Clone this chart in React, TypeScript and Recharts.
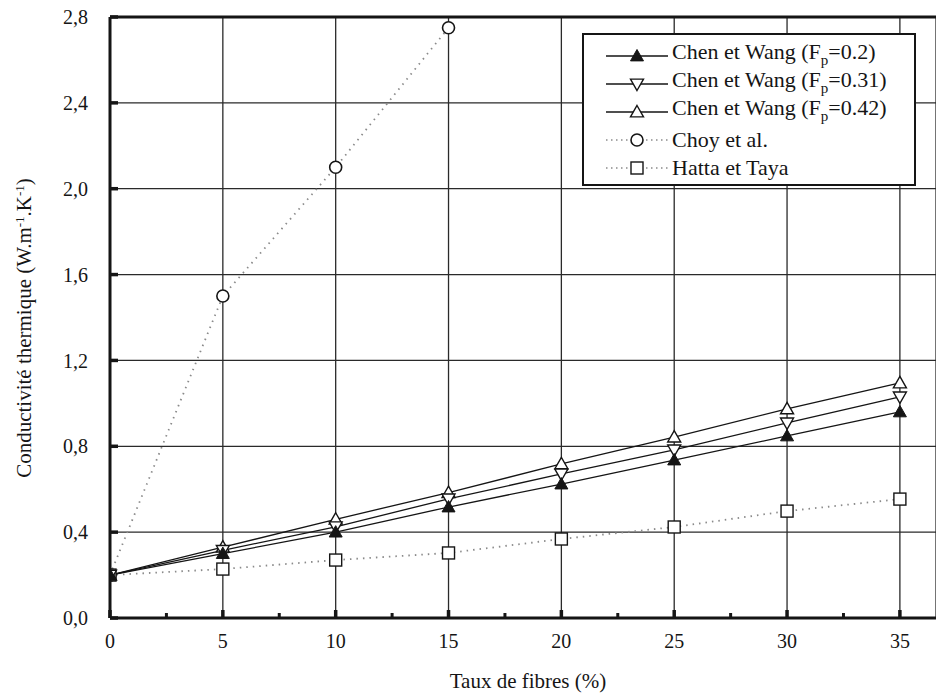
import React from 'react';
import { LineChart, Line, XAxis, YAxis, CartesianGrid, ReferenceLine } from 'recharts';

// Taux de fibres (%)
const fibre = [0, 5, 10, 15, 20, 25, 30, 35];
// Conductivité thermique (W.m-1.K-1)
const chenF020 = [0.2, 0.3, 0.4, 0.517, 0.624, 0.736, 0.848, 0.96];
const chenF031 = [0.2, 0.315, 0.425, 0.555, 0.671, 0.783, 0.909, 1.03];
const chenF042 = [0.2, 0.33, 0.46, 0.584, 0.718, 0.843, 0.974, 1.095];
const choy = [0.2, 1.5, 2.1, 2.75, null, null, null, null];
const hatta = [0.2, 0.228, 0.27, 0.303, 0.368, 0.424, 0.498, 0.554];

const xTicks = [0, 5, 10, 15, 20, 25, 30, 35];
const xMinorTicks = [2.5, 7.5, 12.5, 17.5, 22.5, 27.5, 32.5];
const yTicks = [0, 0.4, 0.8, 1.2, 1.6, 2.0, 2.4, 2.8];
const yMinorTicks = [0.2, 0.6, 1.0, 1.4, 1.8, 2.2, 2.6];

const rows = fibre.map((x, i) => ({
  x,
  c020: chenF020[i],
  c031: chenF031[i],
  c042: chenF042[i],
  choy: choy[i],
  hatta: hatta[i],
}));

const FONT = "'Liberation Serif', 'DejaVu Serif', 'Times New Roman', Times, serif";
const INK = '#151515';
const DOTTED = '#8a8a8a';

type Mark = 'triUpFilled' | 'triDown' | 'triUp' | 'circle' | 'square';

function Marker({ kind, cx, cy }: { kind: Mark; cx: number; cy: number }) {
  const s = 6.5;
  switch (kind) {
    case 'triUpFilled':
      return <path d={`M${cx},${cy - s} L${cx + s},${cy + s * 0.75} L${cx - s},${cy + s * 0.75} Z`} fill={INK} stroke={INK} strokeWidth={1} />;
    case 'triUp':
      return <path d={`M${cx},${cy - s} L${cx + s},${cy + s * 0.75} L${cx - s},${cy + s * 0.75} Z`} fill="#fff" stroke={INK} strokeWidth={1.4} />;
    case 'triDown':
      return <path d={`M${cx},${cy + s} L${cx + s},${cy - s * 0.75} L${cx - s},${cy - s * 0.75} Z`} fill="#fff" stroke={INK} strokeWidth={1.4} />;
    case 'circle':
      return <circle cx={cx} cy={cy} r={6} fill="#fff" stroke={INK} strokeWidth={1.6} />;
    default:
      return <rect x={cx - 6} y={cy - 6} width={12} height={12} fill="#fff" stroke={INK} strokeWidth={1.4} />;
  }
}

const dot = (kind: Mark) => (props: any) => {
  const { cx, cy, index, value } = props;
  if (cx == null || cy == null || value == null) return <g key={`${kind}-${index}`} />;
  return (
    <g key={`${kind}-${index}`}>
      <Marker kind={kind} cx={cx} cy={cy} />
    </g>
  );
};

const sub = { fontSize: 15, verticalAlign: -6 };

const legendItems: { kind: Mark; dotted: boolean; label: React.ReactNode }[] = [
  { kind: 'triUpFilled', dotted: false, label: <>Chen et Wang (F<span style={sub}>p</span>=0.2)</> },
  { kind: 'triDown', dotted: false, label: <>Chen et Wang (F<span style={sub}>p</span>=0.31)</> },
  { kind: 'triUp', dotted: false, label: <>Chen et Wang (F<span style={sub}>p</span>=0.42)</> },
  { kind: 'circle', dotted: true, label: 'Choy et al.' },
  { kind: 'square', dotted: true, label: 'Hatta et Taya' },
];

function LegendBox() {
  return (
    <div
      style={{
        position: 'absolute',
        left: 582,
        top: 33,
        width: 334,
        height: 153,
        border: `2px solid ${INK}`,
        background: '#fff',
        paddingTop: 7,
        boxSizing: 'border-box',
        fontFamily: FONT,
        fontSize: 22,
        color: INK,
      }}
    >
      {legendItems.map((it, i) => (
        <div key={i} style={{ display: 'flex', alignItems: 'center', height: 28 }}>
          <svg width={88} height={28} style={{ flex: 'none' }}>
            <line
              x1={22}
              x2={84}
              y1={14}
              y2={14}
              stroke={it.dotted ? DOTTED : INK}
              strokeWidth={it.dotted ? 1.6 : 1.3}
              strokeDasharray={it.dotted ? '1.5 3.5' : undefined}
            />
            <Marker kind={it.kind} cx={53} cy={14} />
          </svg>
          <span style={{ whiteSpace: 'nowrap', lineHeight: '28px' }}>{it.label}</span>
        </div>
      ))}
    </div>
  );
}

const tickStyle = { fontSize: 20, fontFamily: FONT, fill: INK };
const noLabel = () => <g />;

export default function App() {
  return (
    <div style={{ position: 'absolute', left: 0, top: 0, width: 936, height: 694, background: '#fff', fontFamily: FONT }}>
      <LineChart width={936} height={694} data={rows} margin={{ top: 17, right: 0, left: 0, bottom: 0 }}>
        <CartesianGrid stroke="#2a2a2a" strokeWidth={1.3} />
        {/* minor inner ticks (1px wide mirror axes) */}
        <XAxis xAxisId="minor" type="number" dataKey="x" domain={[0, 36.6]} ticks={xMinorTicks} mirror height={1}
          tick={noLabel} axisLine={false} tickSize={5} tickLine={{ stroke: INK, strokeWidth: 3 }} />
        <XAxis type="number" dataKey="x" domain={[0, 36.6]} ticks={xTicks} allowDataOverflow height={76}
          tick={tickStyle} tickSize={-8} tickMargin={24} tickLine={{ stroke: INK, strokeWidth: 3.5 }}
          axisLine={false}
          label={{ content: () => <text x={528} y={688} textAnchor="middle" fontFamily={FONT} fontSize={21} fill={INK}>Taux de fibres (%)</text> }} />
        <YAxis yAxisId="minor" type="number" domain={[0, 2.8]} ticks={yMinorTicks} mirror width={1}
          tick={noLabel} axisLine={false} tickSize={5} tickLine={{ stroke: INK, strokeWidth: 3 }} />
        <YAxis type="number" domain={[0, 2.8]} ticks={yTicks} width={110}
          tick={tickStyle} tickSize={-8} tickMargin={30} tickLine={{ stroke: INK, strokeWidth: 3.5 }}
          tickFormatter={(v: number) => v.toFixed(1).replace('.', ',')}
          axisLine={false}
          label={{
            content: () => (
              <text x={0} y={0} transform="translate(31,328) rotate(-90)" textAnchor="middle" fontFamily={FONT} fontSize={21} fill={INK}>
                Conductivité thermique (W.m<tspan baselineShift="super" fontSize={13}>-1</tspan>.K<tspan baselineShift="super" fontSize={13}>-1</tspan>)
              </text>
            ),
          }} />
        {/* plot frame */}
        <ReferenceLine y={2.8} stroke={INK} strokeWidth={3} />
        <ReferenceLine y={0} stroke={INK} strokeWidth={3} />
        <ReferenceLine x={0} stroke={INK} strokeWidth={3} />

        <Line dataKey="choy" stroke={DOTTED} strokeWidth={1.8} strokeDasharray="1.5 5" dot={dot('circle')} connectNulls={false} isAnimationActive={false} />
        <Line dataKey="hatta" stroke={DOTTED} strokeWidth={1.8} strokeDasharray="1.5 5" dot={dot('square')} isAnimationActive={false} />
        <Line dataKey="c042" stroke={INK} strokeWidth={1.3} dot={dot('triUp')} isAnimationActive={false} />
        <Line dataKey="c031" stroke={INK} strokeWidth={1.3} dot={dot('triDown')} isAnimationActive={false} />
        <Line dataKey="c020" stroke={INK} strokeWidth={1.3} dot={dot('triUpFilled')} isAnimationActive={false} />
      </LineChart>
      <LegendBox />
    </div>
  );
}
